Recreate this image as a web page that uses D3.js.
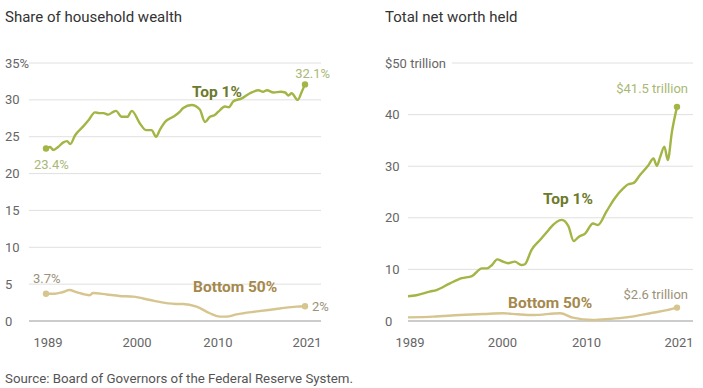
<!DOCTYPE html>
<html>
<head>
<meta charset="utf-8">
<script src="https://cdn.jsdelivr.net/npm/d3@7"></script>
<style>
  body { margin: 0; background: #fff; }
  svg { font-family: Roboto, "Noto Sans", sans-serif; }
</style>
</head>
<body>
<div id="chart"></div>
<script>
// share of household wealth (%)
const shareTopYears = [1989.0, 1989.5, 1989.9, 1990.5, 1991.1, 1991.6, 1992.0, 1992.6, 1993.6, 1994.3, 1995.05, 1995.6, 1996.1, 1996.7, 1997.2, 1997.65, 1998.35, 1999.05, 1999.6, 2000.6, 2001.35, 2002.05, 2002.6, 2003.1, 2003.7, 2004.7, 2005.55, 2005.95, 2007.0, 2008.0, 2008.65, 2009.25, 2009.8, 2010.3, 2011.1, 2011.6, 2012.15, 2013.2, 2014.2, 2015.25, 2015.8, 2016.3, 2017.1, 2018.0, 2018.55, 2018.95, 2019.35, 2020.1, 2020.6, 2021.0];
const shareTopValues = [23.4, 23.6, 23.2, 23.6, 24.2, 24.4, 24.0, 25.2, 26.4, 27.3, 28.3, 28.2, 28.2, 28.0, 28.3, 28.5, 27.7, 27.7, 28.5, 26.8, 25.9, 25.9, 25.0, 26.0, 27.0, 27.7, 28.4, 28.9, 29.3, 28.7, 27.0, 27.7, 27.9, 28.4, 29.1, 29.0, 29.8, 30.2, 30.9, 31.3, 31.1, 31.3, 31.0, 31.1, 31.0, 30.6, 30.9, 30.0, 31.1, 32.1];
const shareBottomYears = [1989.0, 1990.1, 1991.0, 1991.9, 1992.8, 1994.4, 1994.8, 1996.5, 1998.1, 1999.8, 2001.85, 2003.5, 2005.35, 2005.95, 2007.6, 2009.25, 2010.5, 2011.3, 2012.55, 2015.05, 2017.9, 2019.95, 2021.0];
const shareBottomValues = [3.7, 3.7, 3.9, 4.2, 3.9, 3.5, 3.8, 3.6, 3.4, 3.3, 2.85, 2.5, 2.3, 2.3, 1.95, 1.05, 0.6, 0.6, 0.9, 1.3, 1.7, 1.95, 2.0];

// total net worth ($ trillion)
const worthTopYears = [1989.0, 1990.0, 1991.6, 1992.4, 1994.0, 1995.4, 1996.6, 1997.8, 1998.4, 1999.0, 1999.6, 2000.3, 2000.9, 2001.7, 2002.5, 2002.9, 2003.7, 2004.7, 2005.7, 2005.9, 2007.3, 2008.1, 2008.7, 2009.3, 2010.1, 2011.0, 2011.6, 2012.6, 2013.6, 2014.6, 2015.2, 2015.8, 2016.6, 2017.6, 2018.2, 2018.6, 2019.0, 2019.5, 2019.9, 2020.4, 2021.0];
const worthTopValues = [4.8, 5.0, 5.7, 6.0, 7.3, 8.3, 8.7, 10.2, 10.2, 10.85, 11.95, 11.5, 11.2, 11.5, 10.85, 11.0, 13.8, 15.7, 17.6, 18.0, 19.6, 18.3, 15.5, 16.3, 17.0, 18.9, 18.6, 21.2, 23.8, 25.7, 26.5, 26.7, 28.3, 30.2, 31.5, 30.1, 31.8, 33.8, 31.2, 36.7, 41.5];
const worthBottomYears = [1989.0, 1992.0, 1995.2, 1998.0, 2000.3, 2002.0, 2003.9, 2007.1, 2008.6, 2011.0, 2013.0, 2015.0, 2018.1, 2019.8, 2021.0];
const worthBottomValues = [0.7, 0.85, 1.15, 1.35, 1.5, 1.3, 1.15, 1.5, 0.65, 0.2, 0.4, 0.7, 1.6, 2.1, 2.6];

const yearTicks = [1989, 2000, 2010, 2021];
const shareTicks = [0, 5, 10, 15, 20, 25, 30, 35];
const worthTicks = [0, 10, 20, 30, 40, 50];

const topColor = '#a2b545';
const bottomColor = '#d6c58f';
const topLabelColor = '#6c7a2b';
const bottomLabelColor = '#a5884b';
const topValueColor = '#a9b875';
const bottomValueColor = '#9c9178';

const width = 703;
const height = 388;

const svg = d3.select('#chart')
  .append('svg')
  .attr('width', width)
  .attr('height', height);

const zip = (xs, ys) => xs.map((x, i) => ({ year: x, value: ys[i] }));

function panel(opts) {
  const x = d3.scaleLinear().domain([1989, 2021]).range(opts.xRange);
  const y = d3.scaleLinear().domain([0, opts.yMax]).range([321, 63]);
  const g = svg.append('g');

  g.append('text')
    .attr('x', opts.titleX).attr('y', 22)
    .attr('fill', '#333').attr('font-size', 15)
    .text(opts.title);

  // gridlines + y labels
  opts.yTicks.forEach((t) => {
    const isTop = t === opts.yMax;
    g.append('line')
      .attr('x1', isTop ? opts.topGridStart : opts.gridStart)
      .attr('x2', opts.gridEnd)
      .attr('y1', y(t)).attr('y2', y(t))
      .attr('stroke', t === 0 ? '#999' : '#e0e0e0')
      .attr('stroke-width', 1);
    g.append('text')
      .attr('x', opts.labelX).attr('y', y(t) + 4.5)
      .attr('fill', '#666').attr('font-size', 13)
      .text(opts.yFormat(t));
  });

  // x labels
  g.selectAll('.xl')
    .data(yearTicks)
    .join('text')
    .attr('x', (d) => x(d) + opts.xLabelShift)
    .attr('y', 347)
    .attr('text-anchor', 'middle')
    .attr('fill', '#666').attr('font-size', 13)
    .text((d) => d);

  const line = d3.line()
    .x((d) => x(d.year))
    .y((d) => y(d.value))
    .curve(d3.curveMonotoneX);

  opts.series.forEach((s) => {
    g.append('path')
      .datum(s.data)
      .attr('fill', 'none')
      .attr('stroke', s.color)
      .attr('stroke-width', 2.4)
      .attr('stroke-linejoin', 'round')
      .attr('d', line);
    const ends = opts.startDots ? [s.data[0], s.data[s.data.length - 1]] : [s.data[s.data.length - 1]];
    g.selectAll(null)
      .data(ends)
      .join('circle')
      .attr('cx', (d) => x(d.year))
      .attr('cy', (d) => y(d.value))
      .attr('r', 3.2)
      .attr('fill', s.color);
  });

  opts.labels.forEach((l) => {
    g.append('text')
      .attr('x', l.x).attr('y', l.y)
      .attr('text-anchor', l.anchor || 'start')
      .attr('fill', l.color)
      .attr('font-size', l.bold ? 15.5 : 13)
      .attr('font-weight', l.bold ? 'bold' : 'normal')
      .text(l.text);
  });
}

panel({
  title: 'Share of household wealth',
  titleX: 5,
  xRange: [46, 305],
  yMax: 35,
  yTicks: shareTicks,
  yFormat: (t) => (t === 35 ? '35%' : t),
  labelX: 5,
  gridStart: 29,
  topGridStart: 29,
  gridEnd: 321,
  xLabelShift: 2,
  startDots: true,
  series: [
    { data: zip(shareTopYears, shareTopValues), color: topColor },
    { data: zip(shareBottomYears, shareBottomValues), color: bottomColor },
  ],
  labels: [
    { text: 'Top 1%', x: 192, y: 97, color: topLabelColor, bold: true },
    { text: '32.1%', x: 330, y: 78, anchor: 'end', color: topValueColor },
    { text: '23.4%', x: 34, y: 169, color: topValueColor },
    { text: 'Bottom 50%', x: 193, y: 292, color: bottomLabelColor, bold: true },
    { text: '3.7%', x: 33, y: 283, color: bottomValueColor },
    { text: '2%', x: 312, y: 311, color: bottomValueColor },
  ],
});

panel({
  title: 'Total net worth held',
  titleX: 385,
  xRange: [408, 677],
  yMax: 50,
  yTicks: worthTicks,
  yFormat: (t) => (t === 50 ? '$50 trillion' : t),
  labelX: 385,
  gridStart: 408,
  topGridStart: 452,
  gridEnd: 693,
  xLabelShift: 2,
  startDots: false,
  series: [
    { data: zip(worthTopYears, worthTopValues), color: topColor },
    { data: zip(worthBottomYears, worthBottomValues), color: bottomColor },
  ],
  labels: [
    { text: 'Top 1%', x: 543, y: 204, color: topLabelColor, bold: true },
    { text: '$41.5 trillion', x: 688, y: 93, anchor: 'end', color: topValueColor },
    { text: 'Bottom 50%', x: 508, y: 308, color: bottomLabelColor, bold: true },
    { text: '$2.6 trillion', x: 688, y: 299, anchor: 'end', color: bottomValueColor },
  ],
});

svg.append('text')
  .attr('x', 5).attr('y', 383)
  .attr('fill', '#555').attr('font-size', 13.3)
  .text('Source: Board of Governors of the Federal Reserve System.');
</script>
</body>
</html>
